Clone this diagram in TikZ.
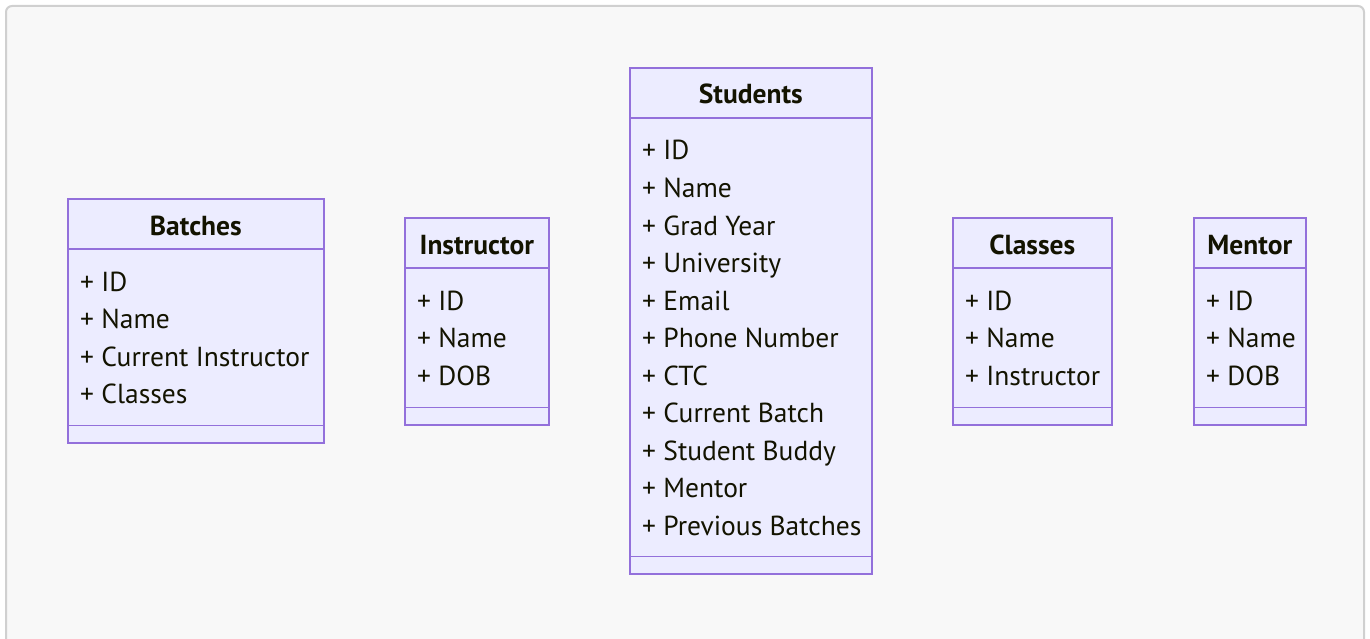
\documentclass[tikz,border=0pt]{standalone}
\usepackage{fontspec}
\setmainfont{PT Sans}

\definecolor{classfill}{HTML}{ECECFF}
\definecolor{classline}{HTML}{9370DB}
\definecolor{classtext}{HTML}{131300}
\definecolor{panelfill}{HTML}{F8F8F8}
\definecolor{panelline}{HTML}{D0D0D0}

\begin{document}
\begin{tikzpicture}[
		x=1pt, y=-1pt,
		every node/.style={inner sep=0pt, text=classtext},
		classbox/.style={rectangle, draw=classline, fill=classfill, line width=1.6pt, anchor=north west},
		classtitle/.style={font=\fontsize{27.5}{27.5}\selectfont\bfseries, anchor=base},
		member/.style={font=\fontsize{27.5}{27.5}\selectfont, anchor=base west},
		divider/.style={draw=classline, line width=1.6pt}
	]
  \useasboundingbox (0,0) rectangle (1370,639);
  \fill[white] (0,0) rectangle (1370,639);
  \draw[panelline, fill=panelfill, line width=2pt, rounded corners=6pt] (6,660) -- (6,6) -- (1364,6) -- (1364,660);

  % Batches
  \node (batches) [classbox, minimum width=256, minimum height=244] at (67,198) {};
  \node (batches_title) [classtitle] at ([yshift=-37pt]batches.north) {Batches};
  \draw[divider] ([yshift=-51pt]batches.north west) -- ([yshift=-51pt]batches.north east);
  \draw[divider] ([yshift=18pt]batches.south west) -- ([yshift=18pt]batches.south east);
  \node (batches_id) [member] at (80,291) {+ ID};
  \node (batches_name) [member] at (80,328.5) {+ Name};
  \node (batches_instr) [member] at (80,366) {+ Current Instructor};
  \node (batches_classes) [member] at (80,403.5) {+ Classes};

  % Instructor
  \node (instructor) [classbox, minimum width=144, minimum height=207] at (404,217) {};
  \node (instructor_title) [classtitle] at ([yshift=-37pt]instructor.north) {Instructor};
  \draw[divider] ([yshift=-51pt]instructor.north west) -- ([yshift=-51pt]instructor.north east);
  \draw[divider] ([yshift=18pt]instructor.south west) -- ([yshift=18pt]instructor.south east);
  \node (instructor_id) [member] at (417,310) {+ ID};
  \node (instructor_name) [member] at (417,347.5) {+ Name};
  \node (instructor_dob) [member] at (417,385) {+ DOB};

  % Students
  \node (students) [classbox, minimum width=242, minimum height=506] at (629,67) {};
  \node (students_title) [classtitle] at ([yshift=-37pt]students.north) {Students};
  \draw[divider] ([yshift=-51pt]students.north west) -- ([yshift=-51pt]students.north east);
  \draw[divider] ([yshift=18pt]students.south west) -- ([yshift=18pt]students.south east);
  \node (students_id) [member] at (642,160) {+ ID};
  \node (students_name) [member] at (642,197.5) {+ Name};
  \node (students_grad) [member] at (642,235) {+ Grad Year};
  \node (students_uni) [member] at (642,272.5) {+ University};
  \node (students_email) [member] at (642,310) {+ Email};
  \node (students_phone) [member] at (642,347.5) {+ Phone Number};
  \node (students_ctc) [member] at (642,385) {+ CTC};
  \node (students_batch) [member] at (642,422.5) {+ Current Batch};
  \node (students_buddy) [member] at (642,460) {+ Student Buddy};
  \node (students_mentor) [member] at (642,497.5) {+ Mentor};
  \node (students_prev) [member] at (642,535) {+ Previous Batches};

  % Classes
  \node (classes) [classbox, minimum width=159, minimum height=207] at (952,217) {};
  \node (classes_title) [classtitle] at ([yshift=-37pt]classes.north) {Classes};
  \draw[divider] ([yshift=-51pt]classes.north west) -- ([yshift=-51pt]classes.north east);
  \draw[divider] ([yshift=18pt]classes.south west) -- ([yshift=18pt]classes.south east);
  \node (classes_id) [member] at (965,310) {+ ID};
  \node (classes_name) [member] at (965,347.5) {+ Name};
  \node (classes_instr) [member] at (965,385) {+ Instructor};

  % Mentor
  \node (mentor) [classbox, minimum width=112, minimum height=207] at (1193,217) {};
  \node (mentor_title) [classtitle] at ([yshift=-37pt]mentor.north) {Mentor};
  \draw[divider] ([yshift=-51pt]mentor.north west) -- ([yshift=-51pt]mentor.north east);
  \draw[divider] ([yshift=18pt]mentor.south west) -- ([yshift=18pt]mentor.south east);
  \node (mentor_id) [member] at (1206,310) {+ ID};
  \node (mentor_name) [member] at (1206,347.5) {+ Name};
  \node (mentor_dob) [member] at (1206,385) {+ DOB};
\end{tikzpicture}
\end{document}
